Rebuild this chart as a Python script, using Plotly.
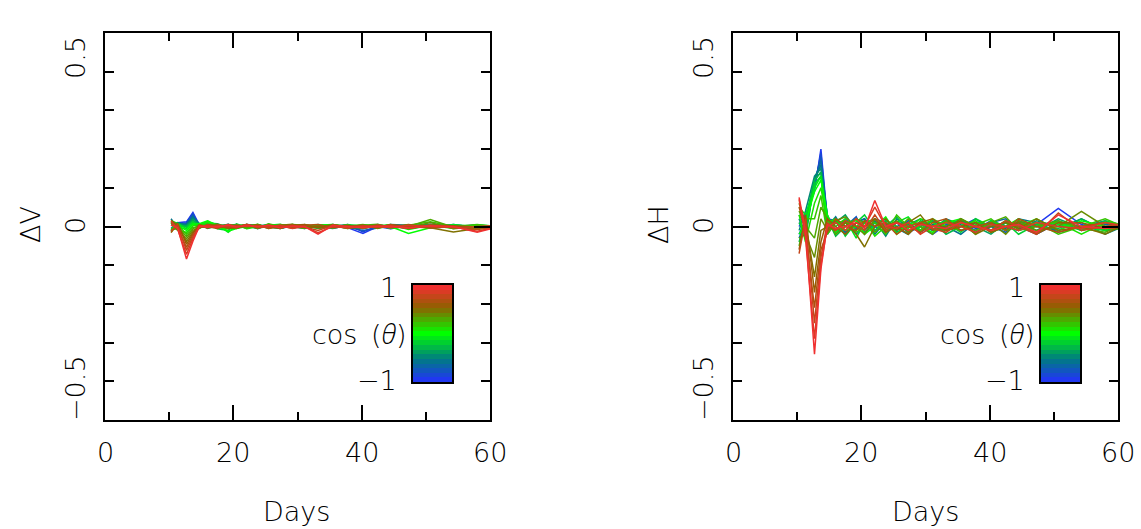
import plotly.graph_objects as go
from plotly.colors import sample_colorscale

# ---------------- data ----------------
days = [10.3, 11.3, 12.7, 13.7, 14.7, 16.0, 17.5, 19.2, 20.5, 22.1, 23.8, 25.5, 27.3,
        29.2, 31.1, 33.2, 35.5, 37.8, 40.2, 42.5, 44.5, 47.3, 50.7, 54.3, 58.0, 61.5]

cos_theta = [-1.0, -0.9, -0.8, -0.7, -0.6, -0.5, -0.4, -0.3, -0.2, -0.1, 0.0,
             0.1, 0.2, 0.3, 0.4, 0.5, 0.6, 0.7, 0.8, 0.9, 1.0]

dV_lines = [
    [0.006, 0.010, 0.012, 0.036, 0.004, 0.003, -0.003, 0.002, 0.004, -0.002, 0.001, 0.004, -0.004, 0.000, -0.005, 0.002, 0.004, -0.003, -0.018, 0.000, -0.006, 0.002, 0.006, 0.001, -0.003, 0.001],
    [-0.004, 0.006, 0.010, 0.033, 0.000, -0.003, 0.004, -0.002, 0.003, 0.000, -0.004, 0.002, 0.003, -0.003, 0.004, -0.002, 0.000, 0.005, -0.014, 0.002, 0.001, -0.005, 0.002, 0.000, 0.004, -0.002],
    [0.012, 0.002, 0.008, 0.030, -0.002, 0.005, 0.000, 0.006, -0.004, 0.002, 0.000, -0.003, 0.004, 0.001, -0.003, 0.000, 0.005, -0.002, -0.010, -0.004, 0.003, 0.001, -0.003, 0.005, -0.002, 0.002],
    [-0.008, 0.004, 0.006, 0.027, 0.006, -0.002, 0.004, -0.005, 0.000, 0.005, 0.003, -0.001, -0.005, 0.003, 0.000, 0.004, -0.003, 0.000, -0.006, 0.005, -0.001, 0.000, 0.004, -0.003, 0.001, 0.000],
    [0.020, -0.006, 0.005, 0.024, 0.003, 0.006, -0.004, 0.003, 0.005, -0.005, 0.004, 0.000, 0.003, -0.004, 0.001, 0.000, -0.005, 0.003, -0.002, -0.001, 0.005, 0.003, -0.004, 0.000, 0.003, -0.003],
    [-0.012, 0.010, 0.004, 0.021, 0.008, -0.005, 0.003, 0.000, -0.003, 0.004, -0.006, 0.005, 0.000, 0.003, -0.003, 0.005, 0.001, -0.004, 0.003, 0.000, -0.003, 0.004, 0.000, 0.003, -0.005, 0.001],
    [0.008, -0.002, 0.002, 0.018, -0.004, 0.009, 0.007, -0.003, 0.004, 0.000, 0.005, -0.004, 0.001, 0.005, -0.001, -0.003, 0.004, 0.000, -0.005, 0.003, 0.001, -0.003, 0.005, -0.001, 0.000, 0.003],
    [-0.010, 0.006, 0.000, 0.015, 0.005, 0.012, 0.000, 0.005, -0.004, 0.003, 0.000, 0.006, -0.003, 0.000, 0.004, -0.005, 0.000, 0.003, 0.001, -0.003, 0.004, 0.000, -0.001, 0.005, -0.003, 0.000],
    [0.004, -0.008, -0.003, 0.012, 0.000, 0.014, -0.006, -0.010, 0.007, -0.003, 0.004, 0.000, -0.005, 0.004, 0.000, 0.003, -0.004, 0.005, 0.000, 0.003, -0.005, 0.001, 0.003, -0.003, 0.004, 0.000],
    [0.015, 0.008, -0.006, 0.009, -0.003, 0.012, 0.005, -0.015, 0.002, 0.005, -0.003, 0.003, 0.006, -0.003, 0.000, 0.004, 0.003, -0.005, 0.004, 0.000, 0.003, -0.004, 0.001, 0.000, -0.003, 0.005],
    [-0.006, 0.003, -0.010, 0.006, 0.007, 0.015, 0.003, -0.012, -0.005, 0.000, 0.006, -0.005, 0.003, 0.000, -0.004, 0.003, 0.005, 0.000, -0.003, 0.004, 0.000, -0.018, -0.003, 0.004, 0.000, -0.003],
    [0.010, -0.010, -0.015, 0.002, 0.003, 0.010, -0.003, -0.006, 0.004, -0.006, 0.000, 0.003, -0.001, 0.005, 0.003, -0.003, 0.000, 0.004, -0.004, 0.000, 0.005, -0.008, 0.003, -0.005, 0.003, 0.001],
    [-0.014, 0.005, -0.020, -0.002, -0.005, 0.006, 0.004, -0.004, 0.000, 0.003, -0.005, 0.007, 0.000, -0.003, 0.005, 0.000, -0.003, 0.001, 0.005, -0.003, 0.000, 0.003, 0.012, 0.000, 0.005, -0.001],
    [0.012, 0.000, -0.026, -0.006, 0.005, -0.004, 0.000, 0.005, 0.003, -0.004, 0.003, -0.003, 0.005, 0.000, -0.005, 0.004, 0.000, -0.003, 0.003, 0.006, -0.003, 0.000, 0.018, -0.002, -0.004, 0.003],
    [-0.008, -0.006, -0.032, -0.010, -0.003, 0.004, 0.006, 0.000, -0.005, 0.005, -0.001, 0.004, -0.004, 0.003, 0.000, -0.003, 0.005, 0.000, 0.003, -0.005, 0.004, -0.003, 0.010, -0.006, 0.000, -0.003],
    [0.016, 0.004, -0.039, -0.014, 0.000, -0.003, 0.003, -0.005, -0.003, 0.000, 0.005, -0.003, 0.003, 0.006, -0.003, 0.000, 0.004, -0.005, 0.000, 0.003, -0.001, 0.005, -0.003, -0.014, -0.005, 0.003],
    [-0.016, 0.008, -0.046, -0.018, 0.004, 0.000, -0.005, 0.003, 0.000, 0.005, -0.004, 0.000, -0.005, 0.003, 0.005, -0.003, 0.000, 0.003, -0.004, 0.000, 0.003, -0.005, 0.003, 0.002, -0.001, 0.000],
    [0.010, -0.003, -0.054, -0.022, -0.004, 0.005, 0.000, -0.003, 0.004, 0.000, 0.003, -0.005, 0.000, -0.004, 0.003, 0.005, -0.003, 0.000, 0.003, -0.003, 0.005, 0.000, -0.004, 0.000, -0.008, -0.001],
    [-0.012, 0.005, -0.062, -0.027, 0.003, -0.003, 0.004, 0.000, -0.003, 0.006, -0.003, 0.003, 0.000, 0.003, -0.001, -0.010, 0.003, 0.000, -0.003, 0.004, 0.000, -0.005, 0.004, -0.003, 0.000, 0.003],
    [0.014, -0.006, -0.072, -0.032, 0.000, 0.003, -0.003, 0.005, 0.000, 0.004, 0.000, -0.001, 0.003, -0.005, 0.000, -0.016, 0.000, -0.004, 0.001, 0.000, -0.003, 0.003, 0.000, -0.001, -0.012, 0.000],
    [0.004, -0.003, -0.084, -0.038, 0.001, -0.001, 0.000, 0.003, -0.001, 0.002, 0.000, 0.003, -0.003, 0.001, 0.000, -0.020, 0.003, 0.000, -0.003, 0.000, 0.001, -0.004, 0.002, 0.000, -0.015, 0.000],
]

dH_lines = [
    [0.00, 0.03, 0.09, 0.20, 0.02, 0.015, -0.02, 0.01, 0.02, -0.01, 0.005, 0.01, -0.015, 0.00, -0.02, 0.005, 0.01, -0.01, 0.015, 0.00, -0.01, 0.005, 0.047, 0.005, -0.01, 0.00],
    [-0.02, 0.02, 0.10, 0.19, 0.01, -0.015, 0.02, -0.005, 0.01, 0.00, -0.015, 0.01, 0.005, -0.01, 0.015, -0.005, 0.00, 0.02, -0.01, 0.01, 0.00, -0.02, 0.01, 0.00, 0.015, -0.005],
    [0.01, -0.01, 0.11, 0.18, -0.01, 0.02, 0.00, 0.025, -0.02, 0.01, 0.00, -0.01, 0.015, 0.005, -0.01, 0.00, 0.02, -0.005, 0.00, -0.015, 0.01, 0.005, -0.01, 0.02, -0.01, 0.01],
    [-0.03, 0.01, 0.12, 0.17, 0.025, -0.01, 0.015, -0.02, 0.00, 0.02, 0.01, -0.005, -0.02, 0.01, 0.00, 0.015, -0.01, 0.00, 0.01, 0.02, -0.005, 0.00, 0.015, -0.01, 0.005, 0.00],
    [0.02, -0.03, 0.12, 0.16, 0.00, 0.025, -0.015, 0.01, 0.02, -0.02, 0.015, 0.00, 0.01, -0.015, 0.005, 0.00, -0.02, 0.01, 0.00, -0.005, 0.02, 0.01, -0.015, 0.00, 0.01, -0.01],
    [-0.01, 0.04, 0.13, 0.15, 0.03, -0.02, 0.01, 0.00, -0.01, 0.015, -0.025, 0.02, 0.00, 0.01, -0.01, 0.02, 0.005, -0.015, 0.01, 0.00, -0.01, 0.015, 0.00, 0.01, -0.02, 0.005],
    [0.03, 0.00, 0.12, 0.14, -0.02, 0.01, 0.03, -0.01, 0.015, 0.00, 0.02, -0.015, 0.005, 0.02, -0.005, -0.01, 0.015, 0.00, -0.02, 0.01, 0.005, -0.01, 0.02, -0.005, 0.00, 0.01],
    [-0.04, 0.02, 0.12, 0.14, 0.02, -0.025, 0.00, 0.02, -0.015, 0.01, 0.00, 0.025, -0.01, 0.00, 0.015, -0.02, 0.00, 0.01, 0.005, -0.01, 0.015, 0.00, -0.005, 0.02, -0.01, 0.00],
    [0.01, -0.02, 0.11, 0.13, 0.00, 0.02, -0.025, 0.01, 0.03, -0.01, 0.015, 0.00, -0.02, 0.015, 0.00, 0.01, -0.015, 0.02, 0.00, 0.01, -0.02, 0.005, 0.01, -0.01, 0.015, 0.00],
    [0.05, 0.03, 0.10, 0.13, -0.01, 0.00, 0.02, -0.03, 0.01, 0.02, -0.01, 0.01, 0.025, -0.01, 0.00, 0.015, 0.01, -0.02, 0.015, 0.00, 0.01, -0.015, 0.005, 0.00, -0.01, 0.02],
    [-0.02, 0.01, 0.09, 0.12, 0.03, -0.015, 0.01, 0.015, -0.02, 0.00, 0.025, -0.02, 0.01, 0.00, -0.015, 0.01, 0.02, 0.00, -0.01, 0.015, 0.00, 0.02, -0.01, 0.015, 0.00, -0.01],
    [0.03, -0.04, 0.06, 0.10, 0.01, 0.02, -0.01, 0.00, 0.015, -0.025, 0.00, 0.01, -0.005, 0.02, 0.01, -0.01, 0.00, 0.015, -0.015, 0.00, 0.02, 0.00, 0.01, -0.02, 0.01, 0.005],
    [-0.05, 0.02, 0.02, 0.08, -0.02, 0.01, 0.015, -0.015, 0.00, 0.01, -0.02, 0.03, 0.00, -0.01, 0.02, 0.00, -0.01, 0.005, 0.02, -0.01, 0.00, 0.01, -0.02, 0.00, 0.02, -0.005],
    [0.04, 0.00, -0.03, 0.05, 0.02, -0.02, 0.00, 0.02, 0.01, -0.015, 0.01, -0.01, 0.02, 0.00, -0.02, 0.015, 0.00, -0.01, 0.01, 0.025, -0.01, 0.00, 0.015, -0.005, -0.015, 0.01],
    [-0.03, -0.02, -0.08, 0.02, -0.01, 0.015, 0.025, 0.00, -0.02, 0.02, -0.005, 0.015, -0.015, 0.01, 0.00, -0.01, 0.02, 0.00, 0.01, -0.02, 0.015, -0.01, 0.00, 0.039, 0.00, -0.01],
    [0.06, 0.01, -0.13, -0.01, 0.00, -0.01, 0.01, -0.02, -0.053, 0.00, 0.02, -0.01, 0.01, 0.03, -0.01, 0.00, 0.015, -0.02, 0.00, 0.01, -0.005, 0.02, -0.01, 0.00, -0.02, 0.01],
    [-0.06, 0.03, -0.17, -0.04, 0.02, 0.00, -0.02, 0.01, 0.00, 0.02, -0.015, 0.00, -0.02, 0.01, 0.02, -0.01, 0.00, 0.01, -0.015, 0.00, 0.01, -0.02, 0.01, 0.01, -0.005, 0.00],
    [0.05, -0.01, -0.21, -0.06, -0.015, 0.02, 0.00, -0.01, 0.015, 0.00, 0.01, -0.02, 0.00, -0.015, 0.01, 0.02, -0.01, 0.00, 0.01, -0.01, 0.02, 0.00, -0.015, 0.00, 0.01, -0.005],
    [-0.07, 0.02, -0.25, -0.08, 0.01, -0.01, 0.015, 0.00, -0.01, 0.03, -0.01, 0.01, 0.00, 0.01, -0.005, -0.015, 0.01, 0.00, -0.01, 0.015, 0.00, -0.02, 0.035, -0.01, 0.00, 0.01],
    [0.07, -0.03, -0.29, -0.10, 0.00, 0.01, -0.01, 0.02, 0.00, 0.05, 0.00, -0.005, 0.01, -0.02, 0.00, 0.01, 0.00, -0.015, 0.005, 0.00, -0.01, 0.01, 0.00, -0.005, 0.01, 0.00],
    [0.075, -0.01, -0.33, -0.11, 0.005, -0.005, 0.00, 0.01, -0.005, 0.067, 0.00, 0.01, -0.01, 0.005, 0.00, -0.005, 0.01, 0.00, -0.01, 0.00, 0.005, -0.015, 0.03, 0.00, -0.005, 0.00],
]

x_ticks = [0, 20, 40, 60]
y_tick_text = ["0.5", "0", "\u22120.5"]

# ---------------- styling ----------------
W, H = 1141, 529
FONT = "DejaVu Sans"
FS = 27
scale = [[0.0, "#2038f0"], [0.22, "#007a84"], [0.5, "#00ff00"],
         [0.78, "#8f6000"], [1.0, "#f03030"]]
# pixel centres (vertical) of the rotated y tick labels, PGPLOT-style justified
y_label_px = [58, 226, 388]


def px(x):
    return x / W


def py(y):
    return 1 - y / H


panels = [
    dict(lines=dV_lines, title="\u0394V", dx=0),
    dict(lines=dH_lines, title="\u0394H", dx=628),
]

fig = go.Figure()
annotations = []
tfont = dict(size=FS, weight=200, color="#000000")
theta = ("<span style=\"font-family:'Open Sans';font-weight:300;"
         "font-style:italic\">\u03b8</span>")

for i, p in enumerate(panels):
    xa = "x" if i == 0 else "x2"
    ya = "y" if i == 0 else "y2"
    colors = sample_colorscale(scale, [(c + 1) / 2 for c in cos_theta])
    for c, col, vals in zip(cos_theta, colors, p["lines"]):
        fig.add_trace(go.Scatter(x=days, y=vals, mode="lines",
                                 line=dict(color=col, width=1.5),
                                 xaxis=xa, yaxis=ya, showlegend=False,
                                 hoverinfo="skip"))
    # colour bar (heatmap of the cos values)
    cxa = "x3" if i == 0 else "x4"
    cya = "y3" if i == 0 else "y4"
    fig.add_trace(go.Heatmap(z=[[c] for c in cos_theta], y=cos_theta, x=[0],
                             colorscale=scale, zmin=-1, zmax=1, showscale=False,
                             xaxis=cxa, yaxis=cya, hoverinfo="skip"))

    dx = p["dx"]
    # y tick labels (rotated)
    for ypx, t in zip(y_label_px, y_tick_text):
        annotations.append(dict(x=px(75 + dx), xref="paper", y=py(ypx), yref="paper",
                                text=t, textangle=-90, showarrow=False,
                                xanchor="center", yanchor="middle", font=tfont))
    # x tick labels
    for v in x_ticks:
        annotations.append(dict(x=v, xref=xa, y=py(452), yref="paper",
                                text=str(v), showarrow=False,
                                xanchor="center", yanchor="middle", font=tfont))
    # axis titles
    annotations.append(dict(x=px(30 + dx), xref="paper", y=py(225), yref="paper",
                            text=p["title"], textangle=-90, showarrow=False,
                            xanchor="center", yanchor="middle", font=tfont))
    annotations.append(dict(x=px(297 + dx), xref="paper", y=py(511), yref="paper",
                            text="Days", showarrow=False,
                            xanchor="center", yanchor="middle", font=tfont))
    # colour bar labels
    annotations.append(dict(x=px(399 + dx), xref="paper", y=py(287), yref="paper",
                            text="1", showarrow=False, xanchor="right",
                            yanchor="middle", font=tfont))
    annotations.append(dict(x=px(399 + dx), xref="paper", y=py(380), yref="paper",
                            text="\u22121", showarrow=False, xanchor="right",
                            yanchor="middle", font=tfont))
    annotations.append(dict(x=px(409 + dx), xref="paper", y=py(333), yref="paper",
                            text="cos\u2002(" + theta + ")", showarrow=False,
                            xanchor="right", yanchor="middle", font=tfont))

common_x = dict(range=[0, 60], showline=True, linecolor="black", linewidth=2,
                mirror="ticks", ticks="inside", tickvals=x_ticks, ticklen=15,
                tickwidth=2, tickcolor="black", showticklabels=False,
                showgrid=False, zeroline=False,
                minor=dict(ticks="inside", tickvals=[10, 30, 50], ticklen=8,
                           tickwidth=2, tickcolor="black", showgrid=False))
common_y = dict(range=[-0.5, 0.5], showline=True, linecolor="black", linewidth=2,
                mirror="ticks", ticks="inside", tickvals=[-0.5, 0.0, 0.5], ticklen=16,
                tickwidth=2, tickcolor="black", showticklabels=False,
                showgrid=False, zeroline=False,
                minor=dict(ticks="inside",
                           tickvals=[-0.4, -0.3, -0.2, -0.1, 0.1, 0.2, 0.3, 0.4],
                           ticklen=9, tickwidth=2, tickcolor="black",
                           showgrid=False))
cb_x = dict(showline=True, linecolor="black", linewidth=1.5, mirror=True,
            showticklabels=False, ticks="", showgrid=False, zeroline=False,
            range=[-0.5, 0.5], fixedrange=True)
cb_y = dict(showline=True, linecolor="black", linewidth=1.5, mirror=True,
            showticklabels=False, ticks="", showgrid=False, zeroline=False,
            range=[-1.05, 1.05], fixedrange=True)

fig.update_layout(
    width=W, height=H, margin=dict(l=0, r=0, t=0, b=0),
    paper_bgcolor="white", plot_bgcolor="white",
    font=dict(family=FONT, size=FS, color="black"),
    xaxis=dict(common_x, domain=[px(105), px(490)], anchor="y"),
    yaxis=dict(common_y, domain=[py(420), py(33)], anchor="x"),
    xaxis2=dict(common_x, domain=[px(733), px(1118)], anchor="y2"),
    yaxis2=dict(common_y, domain=[py(420), py(33)], anchor="x2"),
    xaxis3=dict(cb_x, domain=[px(413), px(452)], anchor="y3"),
    yaxis3=dict(cb_y, domain=[py(382), py(285)], anchor="x3"),
    xaxis4=dict(cb_x, domain=[px(1041), px(1080)], anchor="y4"),
    yaxis4=dict(cb_y, domain=[py(382), py(285)], anchor="x4"),
    annotations=annotations,
)

fig.write_html("out.html")
